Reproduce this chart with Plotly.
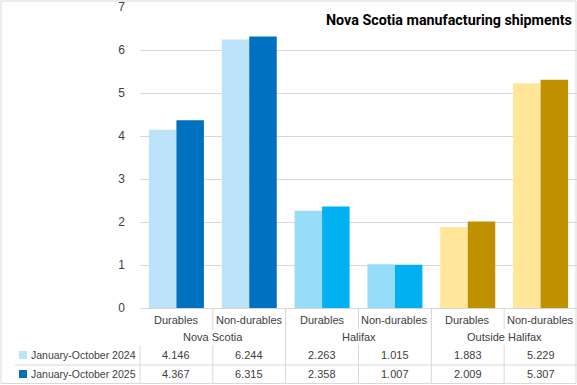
import plotly.graph_objects as go

categories = ["Durables", "Non-durables", "Durables", "Non-durables", "Durables", "Non-durables"]
groups = ["Nova Scotia", "Halifax", "Outside Halifax"]
series_names = ["January-October 2024", "January-October 2025"]
values_2024 = [4.146, 6.244, 2.263, 1.015, 1.883, 5.229]
values_2025 = [4.367, 6.315, 2.358, 1.007, 2.009, 5.307]
colors_2024 = ["#BDE3FB", "#BDE3FB", "#97DDF9", "#97DDF9", "#FFE699", "#FFE699"]
colors_2025 = ["#0070C0", "#0070C0", "#00B0F0", "#00B0F0", "#BF9000", "#BF9000"]
y_ticks = [0, 1, 2, 3, 4, 5, 6, 7]
title = "Nova Scotia manufacturing shipments"

W, H = 577, 385
L, R, T, B = 140, 0, 7, 77
PW, PH = W - L - R, H - T - B
FONT = "Liberation Sans, Arial, sans-serif"
TXT = "#404040"
LINE = "#D9D9D9"


def px(x):
    return (x - L) / PW


def py(y):
    return (H - B - y) / PH


xs = list(range(len(categories)))
fig = go.Figure()
fig.add_trace(go.Bar(x=xs, y=values_2024, marker=dict(color=colors_2024, line=dict(width=0)),
                     name=series_names[0], showlegend=False))
fig.add_trace(go.Bar(x=xs, y=values_2025, marker=dict(color=colors_2025, line=dict(width=0)),
                     name=series_names[1], showlegend=False))

shapes = []
ann = []

# chart border
shapes.append(dict(type="rect", xref="paper", yref="paper", x0=px(1), x1=px(576), y0=py(383.5), y1=py(1),
                   line=dict(color=LINE, width=1), fillcolor="rgba(0,0,0,0)", layer="below"))

col_w = PW / len(categories)
bounds = [L + i * col_w for i in range(len(categories) + 1)]

def vline(x, y0, y1):
    shapes.append(dict(type="line", xref="paper", yref="paper", x0=px(x), x1=px(x), y0=py(y0), y1=py(y1),
                       line=dict(color=LINE, width=1)))

def hline(x0, x1, y):
    shapes.append(dict(type="line", xref="paper", yref="paper", x0=px(x0), x1=px(x1), y0=py(y), y1=py(y),
                       line=dict(color=LINE, width=1)))

# category row dividers
for b in bounds[1:-1]:
    vline(b, 308, 329)
# group dividers through group row
for gi in (2, 4):
    vline(bounds[gi], 308, 383)
# value rows dividers
for i, b in enumerate(bounds[:-1]):
    if i not in (2, 4):
        vline(b, 345, 383)
hline(15, W, 365)

# table text
for i, c in enumerate(categories):
    ann.append(dict(x=i, xref="x", y=py(320), yref="paper", text=c, showarrow=False,
                    font=dict(size=11, color=TXT, family=FONT), xanchor="center", yanchor="middle"))
    ann.append(dict(x=i, xref="x", y=py(355), yref="paper", text=f"{values_2024[i]:.3f}", showarrow=False,
                    font=dict(size=11, color=TXT, family=FONT), xanchor="center", yanchor="middle"))
    ann.append(dict(x=i, xref="x", y=py(374), yref="paper", text=f"{values_2025[i]:.3f}", showarrow=False,
                    font=dict(size=11, color=TXT, family=FONT), xanchor="center", yanchor="middle"))
for gi, g in enumerate(groups):
    ann.append(dict(x=2 * gi + 0.5, xref="x", y=py(337), yref="paper", text=g, showarrow=False,
                    font=dict(size=11, color=TXT, family=FONT), xanchor="center", yanchor="middle"))

# legend keys in the table
for ry, name, col in ((355, series_names[0], colors_2024[0]), (374, series_names[1], colors_2025[0])):
    shapes.append(dict(type="rect", xref="paper", yref="paper", x0=px(19), x1=px(27), y0=py(ry + 4), y1=py(ry - 4),
                       line=dict(width=0), fillcolor=col))
    ann.append(dict(x=px(29), xref="paper", y=py(ry), yref="paper", text=name, showarrow=False,
                    font=dict(size=10.5, color=TXT, family=FONT), xanchor="left", yanchor="middle"))

# title
ann.append(dict(x=px(574), xref="paper", y=py(20), yref="paper", text="<b>" + title + "</b>", showarrow=False,
                font=dict(size=14.3, color="#000000", family="Liberation Sans Narrow, Arial Narrow, Roboto, sans-serif"),
                xanchor="right", yanchor="middle"))

fig.update_layout(
    width=W, height=H,
    margin=dict(l=L, r=R, t=T, b=B, pad=0),
    paper_bgcolor="white", plot_bgcolor="white",
    barmode="group", bargap=0.245, bargroupgap=0,
    shapes=shapes, annotations=ann,
    xaxis=dict(range=[-0.5, len(categories) - 0.5], showticklabels=False, showgrid=False, zeroline=False,
               showline=True, linecolor=LINE, linewidth=1, fixedrange=True),
    yaxis=dict(range=[0, 7], tickvals=y_ticks, showgrid=True, gridcolor=LINE, gridwidth=1, zeroline=False,
               showline=False, ticks="", tickfont=dict(size=12, color=TXT, family=FONT), ticklabelstandoff=14,
               fixedrange=True),
    font=dict(family=FONT),
)

fig.write_html("out.html", config={"displayModeBar": False},
               post_script="document.body.style.margin='0';document.body.style.overflow='hidden';")
